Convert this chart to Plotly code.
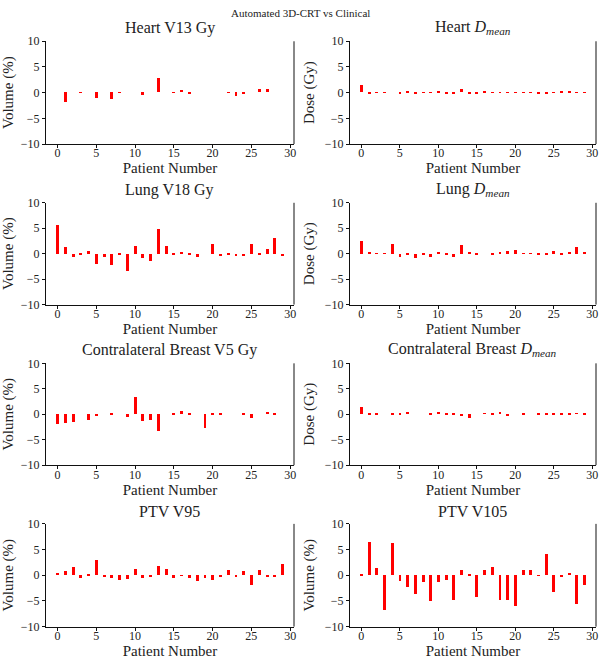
import plotly.graph_objects as go

patients = list(range(30))

heart_v13 = [0, -1.9, 0, -0.1, 0, -1.1, 0, -1.2, 0.05, 0, 0, -0.5, 0, 2.8, 0, -0.1, 0.4, -0.2, 0, 0,
             0, 0, -0.1, -0.7, -0.4, 0, 0.6, 0.6, 0, 0]
heart_dmean = [1.5, -0.3, -0.1, -0.1, 0, -0.4, 0.3, -0.4, -0.05, -0.05, 0.1, -0.2, -0.2, 0.7, -0.4,
               -0.15, 0.2, -0.1, -0.1, -0.05, -0.05, -0.05, -0.05, -0.3, -0.2, -0.05, 0.2, 0.2, -0.05, -0.05]
lung_v18 = [5.7, 1.4, -0.6, -0.1, 0.6, -1.9, -0.7, -2.1, -0.2, -3.4, 1.5, -0.8, -1.3, 4.9, 1.5,
            -0.2, 0.4, -0.1, -0.7, 0, 1.9, -0.5, -0.2, -0.5, -0.4, 1.9, -0.2, 0.9, 3.1, -0.4]
lung_dmean = [2.5, 0.4, 0.05, 0.05, 1.9, -0.7, -0.2, -0.9, -0.1, -0.6, 0.4, -0.2, -0.7, 1.8, 0.4,
              -0.2, 0, -0.05, 0.3, 0.5, 0.8, 0.05, 0.05, -0.3, -0.2, 0.5, -0.1, 0.3, 1.3, 0.4]
cb_v5 = [-2.0, -1.7, -1.5, 0, -1.2, -0.4, 0, -0.3, 0, -0.7, 3.4, -1.3, -1.2, -3.3, 0,
         -0.05, 0.6, -0.1, 0, -2.8, -0.1, -0.3, 0, 0, -0.05, -0.8, 0, 0.2, -0.1, 0]
cb_dmean = [1.4, -0.1, -0.1, 0, -0.05, -0.05, 0.3, 0, 0, -0.05, 0.3, -0.1, -0.1, -0.4, -0.8,
            0, 0.15, -0.1, 0.3, -0.4, 0, -0.05, 0, -0.05, -0.05, -0.05, -0.05, -0.05, 0.1, -0.05]
ptv_v95 = [0.4, 0.8, 1.6, -0.5, 0.1, 2.9, -0.2, -0.6, -0.8, -0.7, 1.2, -0.6, -0.4, 1.9, 1.2,
           -0.5, 0.05, -0.6, -1.0, -0.6, -0.8, -0.4, 1.1, -0.2, 0.8, -1.8, 1.0, -0.2, -0.4, 2.2]
ptv_v105 = [0.2, 6.5, 1.5, -6.7, 6.4, -1.1, -2.3, -3.6, -1.2, -5.0, -1.2, -0.8, -4.8, 1.0, 0.3,
            -4.2, 1.0, 1.6, -4.8, -4.8, -6.0, 1.1, 1.0, 0.05, 4.1, -3.2, -0.3, 0.4, -5.6, -1.8]

panels = [
    ("Heart V13 Gy", "Volume (%)", heart_v13),
    ("Heart <i>D</i><sub><i>mean</i></sub>", "Dose (Gy)", heart_dmean),
    ("Lung V18 Gy", "Volume (%)", lung_v18),
    ("Lung <i>D</i><sub><i>mean</i></sub>", "Dose (Gy)", lung_dmean),
    ("Contralateral Breast V5 Gy", "Volume (%)", cb_v5),
    ("Contralateral Breast <i>D</i><sub><i>mean</i></sub>", "Dose (Gy)", cb_dmean),
    ("PTV V95", "Volume (%)", ptv_v95),
    ("PTV V105", "Volume (%)", ptv_v105),
]

W, H = 602, 664
FONT = "Liberation Serif"
col_x = [(46, 295), (351, 598)]
row_y = [(35, 140), (200, 304), (364, 468), (528, 633)]

fig = go.Figure()
layout = dict(
    width=W, height=H, margin=dict(l=0, r=0, t=0, b=0),
    paper_bgcolor="white", plot_bgcolor="white", showlegend=False,
    font=dict(family=FONT, size=12, color="#222"),
    bargap=0,
)
annotations = []
shapes = []
for i, (title, ylab, vals) in enumerate(panels):
    r, c = divmod(i, 2)
    n = i + 1
    xa = "x" if n == 1 else f"x{n}"
    ya = "y" if n == 1 else f"y{n}"
    fig.add_trace(go.Bar(x=patients, y=vals, width=0.38, xaxis=xa, yaxis=ya,
                         marker=dict(color="#ff0000", line=dict(width=0))))
    x0, x1 = col_x[c]
    y0, y1 = row_y[r]
    layout["xaxis" if n == 1 else f"xaxis{n}"] = dict(
        domain=[x0 / W, x1 / W], anchor=ya, range=[-1.5, 30.5],
        tickvals=[0, 5, 10, 15, 20, 25, 30], ticks="outside", ticklen=3, tickwidth=1,
        tickcolor="#111", showline=True, linecolor="#111", linewidth=1, showgrid=False,
        zeroline=False, tickfont=dict(family=FONT, size=12, color="#222"),
        ticklabelstandoff=-5,
        title=dict(text="Patient Number", font=dict(family=FONT, size=15, color="#222"), standoff=0),
    )
    layout["yaxis" if n == 1 else f"yaxis{n}"] = dict(
        domain=[1 - y1 / H, 1 - y0 / H], anchor=xa, range=[-10, 10],
        tickvals=[-10, -5, 0, 5, 10], ticks="outside", ticklen=3, tickwidth=1,
        tickcolor="#111", showline=True, linecolor="#111", linewidth=1, showgrid=False,
        zeroline=False, tickfont=dict(family=FONT, size=12, color="#222"),
        title=dict(text=ylab, font=dict(family=FONT, size=15, color="#222"), standoff=6),
    )
    annotations.append(dict(
        text=title, xref=f"{xa} domain", yref=f"{ya} domain", x=0.5, y=1, yanchor="bottom",
        xanchor="center", showarrow=False, yshift=2, font=dict(family=FONT, size=16, color="#222"),
    ))
    shapes.append(dict(type="line", xref=f"{xa} domain", yref=f"{ya} domain",
                       x0=1, x1=1, y0=0, y1=1, line=dict(color="#888", width=2)))

annotations.append(dict(text="Automated 3D-CRT vs Clinical", xref="paper", yref="paper",
                        x=0.5, y=1 - 6 / H, yanchor="middle", xanchor="center", showarrow=False,
                        font=dict(family=FONT, size=11, color="#222")))
layout["annotations"] = annotations
layout["shapes"] = shapes
fig.update_layout(**layout)
fig.write_html("out.html")
